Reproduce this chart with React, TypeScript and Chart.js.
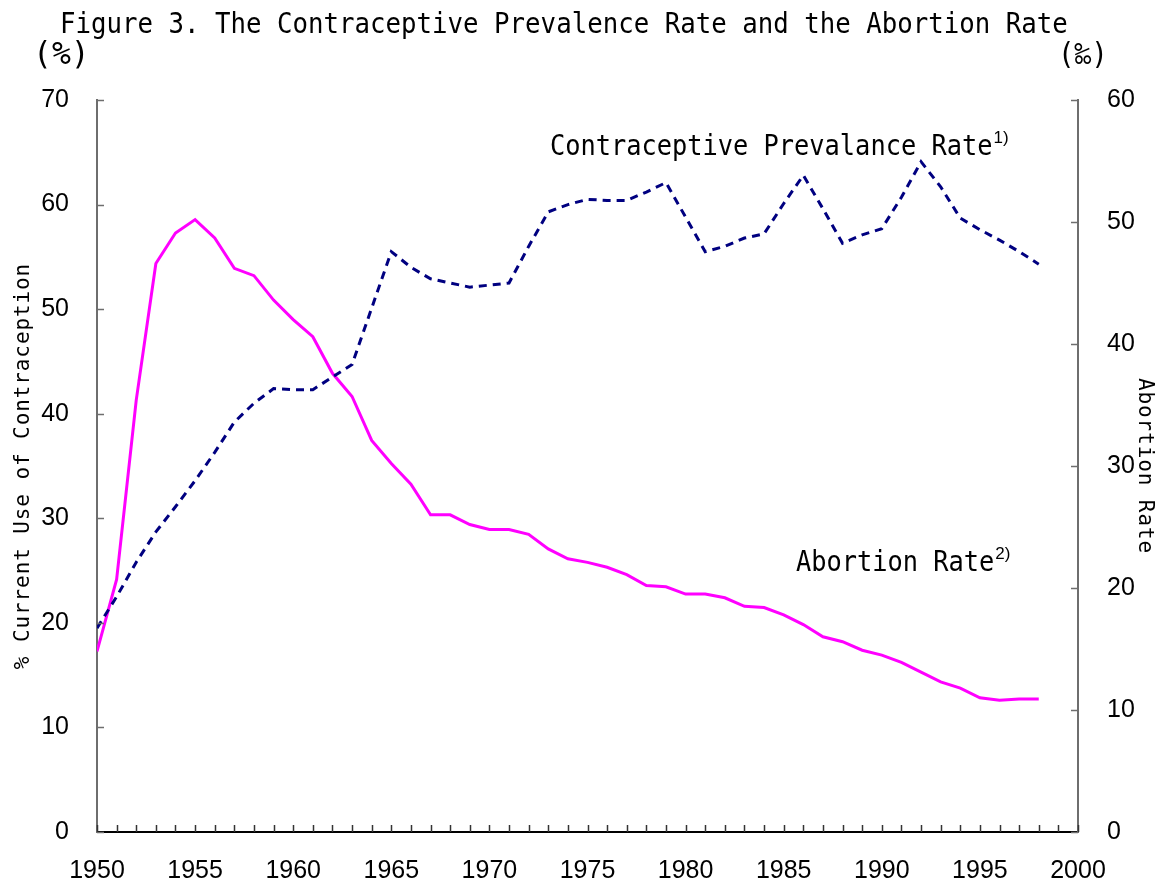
import React, { useEffect, useRef } from "react";
import { Chart, registerables } from "chart.js";

Chart.register(...registerables);

const years = [
  1950, 1951, 1952, 1953, 1954, 1955, 1956, 1957, 1958, 1959,
  1960, 1961, 1962, 1963, 1964, 1965, 1966, 1967, 1968, 1969,
  1970, 1971, 1972, 1973, 1974, 1975, 1976, 1977, 1978, 1979,
  1980, 1981, 1982, 1983, 1984, 1985, 1986, 1987, 1988, 1989,
  1990, 1991, 1992, 1993, 1994, 1995, 1996, 1997, 1998,
];

// % current use of contraception (left axis)
const contraceptive = [
  19.5, 22.5, 25.8, 28.7, 31.1, 33.6, 36.3, 39.2, 41.0, 42.4,
  42.3, 42.3, 43.5, 44.7, 50.1, 55.5, 54.0, 52.9, 52.5, 52.1,
  52.3, 52.5, 56.0, 59.3, 60.0, 60.5, 60.4, 60.4, 61.2, 62.1,
  58.8, 55.5, 56.0, 56.8, 57.2, 60.1, 62.8, 59.6, 56.3, 57.1,
  57.7, 60.7, 64.1, 61.7, 58.7, 57.6, 56.6, 55.5, 54.3,
];

// abortion rate in per mille (right axis)
const abortion = [
  14.8, 20.7, 35.4, 46.6, 49.1, 50.2, 48.7, 46.2, 45.6, 43.6,
  42.0, 40.6, 37.6, 35.7, 32.1, 30.2, 28.5, 26.0, 26.0, 25.2,
  24.8, 24.8, 24.4, 23.2, 22.4, 22.1, 21.7, 21.1, 20.2, 20.1,
  19.5, 19.5, 19.2, 18.5, 18.4, 17.8, 17.0, 16.0, 15.6, 14.9,
  14.5, 13.9, 13.1, 12.3, 11.8, 11.0, 10.8, 10.9, 10.9,
];

const xRange = [1950, 2000];
const leftRange = [0, 70];
const rightRange = [0, 60];

const titleText = "Figure 3. The Contraceptive Prevalence Rate and the Abortion Rate";
const leftUnit = "(%)";
const rightUnit = "(‰)";
const leftAxisTitle = "% Current Use of Contraception";
const rightAxisTitle = "Abortion Rate";
const cprLabel = "Contraceptive Prevalance Rate";
const cprNote = "1)";
const abLabel = "Abortion Rate";
const abNote = "2)";

const MONO = '"DejaVu Sans Mono", monospace';
const SANS = '"Liberation Sans", Arial, sans-serif';

function drawNarrow(
  ctx: CanvasRenderingContext2D,
  text: string,
  x: number,
  y: number,
  font: string,
  sx: number
) {
  ctx.save();
  ctx.font = font;
  ctx.translate(x, y);
  ctx.scale(sx, 1);
  ctx.fillText(text, 0, 0);
  const w = ctx.measureText(text).width * sx;
  ctx.restore();
  return w;
}

const textPlugin = {
  id: "texts",
  afterDraw(chart: any) {
    const ctx = chart.ctx as CanvasRenderingContext2D;
    const { left, right, bottom } = chart.chartArea;
    const xs = chart.scales.x;
    const yl = chart.scales.yL;
    const yr = chart.scales.yR;
    ctx.save();
    // inside tick marks
    ctx.lineWidth = 1.5;
    ctx.strokeStyle = "#6e6e6e";
    for (const t of yl.ticks) {
      const p = Math.round(yl.getPixelForValue(t.value)) + 0.5;
      ctx.beginPath();
      ctx.moveTo(left, p);
      ctx.lineTo(left + 7, p);
      ctx.stroke();
    }
    for (const t of yr.ticks) {
      const p = Math.round(yr.getPixelForValue(t.value)) + 0.5;
      ctx.beginPath();
      ctx.moveTo(right - 7, p);
      ctx.lineTo(right, p);
      ctx.stroke();
    }
    ctx.strokeStyle = "#333";
    for (let v = xs.min; v <= xs.max; v++) {
      const p = Math.round(xs.getPixelForValue(v)) + 0.5;
      ctx.beginPath();
      ctx.moveTo(p, bottom);
      ctx.lineTo(p, bottom - 7);
      ctx.stroke();
    }

    ctx.fillStyle = "#000";
    ctx.textBaseline = "alphabetic";
    ctx.textAlign = "left";
    // title and units
    drawNarrow(ctx, titleText, 60, 33, `29px ${MONO}`, 0.888);
    drawNarrow(ctx, leftUnit, 33, 64, `32px ${MONO}`, 0.98);
    drawNarrow(ctx, rightUnit, 1058, 64, `30px ${MONO}`, 0.92);

    // annotations
    let w = drawNarrow(ctx, cprLabel, 550, 155, `28px ${MONO}`, 0.905);
    ctx.font = `17px ${SANS}`;
    ctx.fillText(cprNote, 550 + w + 1, 143);
    w = drawNarrow(ctx, abLabel, 796, 571, `28px ${MONO}`, 0.905);
    ctx.font = `17px ${SANS}`;
    ctx.fillText(abNote, 796 + w + 1, 559);

    // axis titles
    (ctx as any).letterSpacing = "0.9px";
    ctx.font = `21px ${MONO}`;
    ctx.textAlign = "center";
    ctx.save();
    ctx.translate(29, 466);
    ctx.rotate(-Math.PI / 2);
    ctx.fillText(leftAxisTitle, 0, 0);
    ctx.restore();
    ctx.save();
    ctx.translate(1139, 466);
    ctx.rotate(Math.PI / 2);
    ctx.fillText(rightAxisTitle, 0, 0);
    ctx.restore();
    (ctx as any).letterSpacing = "0px";
    ctx.restore();
  },
};

export default function App() {
  const ref = useRef<HTMLCanvasElement>(null);
  useEffect(() => {
    const chart = new Chart(ref.current as HTMLCanvasElement, {
      type: "line",
      data: {
        datasets: [
          {
            label: cprLabel,
            data: years.map((y, i) => ({ x: y, y: contraceptive[i] })),
            yAxisID: "yL",
            borderColor: "#000080",
            borderWidth: 3,
            borderDash: [8, 6],
            pointRadius: 0,
            tension: 0,
            fill: false,
          },
          {
            label: abLabel,
            data: years.map((y, i) => ({ x: y, y: abortion[i] })),
            yAxisID: "yR",
            borderColor: "#FF00FF",
            borderWidth: 3,
            pointRadius: 0,
            tension: 0,
            fill: false,
          },
        ],
      },
      options: {
        responsive: false,
        animation: false,
        maintainAspectRatio: false,
        layout: { padding: { top: 100, left: 0, right: 0, bottom: 0 } },
        plugins: {
          legend: { display: false },
          title: { display: false },
          tooltip: { enabled: false },
        },
        scales: {
          x: {
            type: "linear",
            position: "bottom",
            min: xRange[0],
            max: xRange[1],
            afterFit: (s: any) => {
              s.height = 50;
            },
            grid: { display: false },
            border: { display: true, color: "#000", width: 2 },
            ticks: {
              stepSize: 5,
              padding: 16,
              color: "#000",
              maxRotation: 0,
              autoSkip: false,
              font: { family: SANS, size: 25 },
              callback: (v: any) => String(v),
            },
          },
          yL: {
            position: "left",
            min: leftRange[0],
            max: leftRange[1],
            afterFit: (s: any) => {
              s.width = 97;
            },
            grid: { display: false },
            border: { display: true, color: "#6e6e6e", width: 2 },
            ticks: {
              stepSize: 10,
              padding: 20,
              color: "#000",
              font: { family: SANS, size: 25 },
            },
          },
          yR: {
            position: "right",
            min: rightRange[0],
            max: rightRange[1],
            afterFit: (s: any) => {
              s.width = 85;
            },
            grid: { display: false },
            border: { display: true, color: "#6e6e6e", width: 2 },
            ticks: {
              stepSize: 10,
              padding: 21,
              color: "#000",
              font: { family: SANS, size: 25 },
            },
          },
        },
      } as any,
      plugins: [textPlugin],
    });
    return () => chart.destroy();
  }, []);
  return (
    <div
      style={{
        position: "fixed",
        left: 0,
        top: 0,
        width: 1163,
        height: 882,
        background: "#fff",
      }}
    >
      <canvas
        ref={ref}
        width={1163}
        height={882}
        style={{ width: 1163, height: 882, display: "block" }}
      />
    </div>
  );
}
